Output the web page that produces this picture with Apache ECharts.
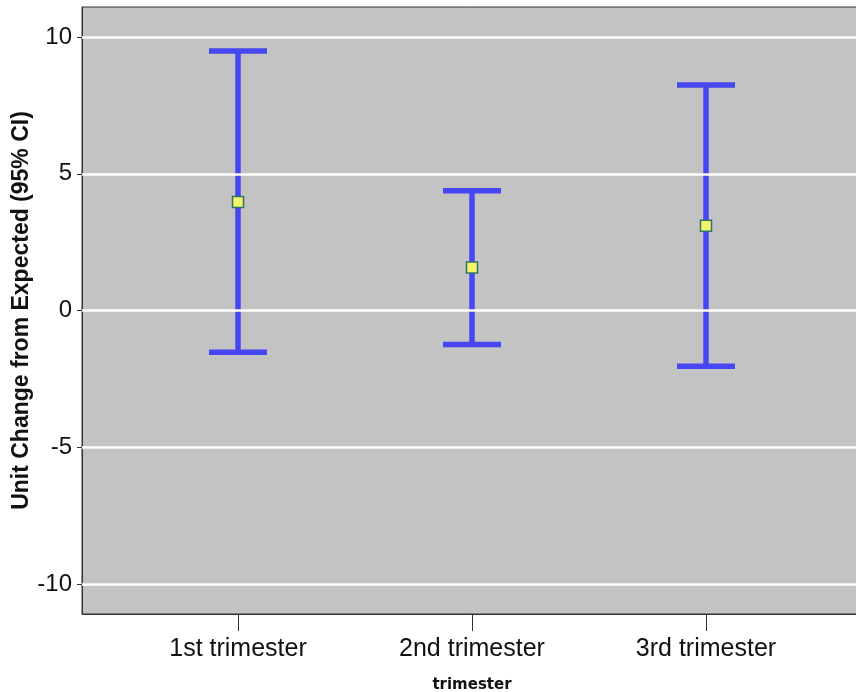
<!DOCTYPE html>
<html>
<head>
<meta charset="UTF-8">
<title>Unit Change from Expected</title>
<script src="https://cdn.jsdelivr.net/npm/echarts@6/dist/echarts.min.js"></script>
<style>
    body { margin: 0; background: #fff; }
    #chart { width: 856px; height: 692px; }
</style>
</head>
<body>
<div id="chart"></div>
<script>
var categories = ['1st trimester', '2nd trimester', '3rd trimester'];
var means = [3.97, 1.57, 3.10];
var lower = [-1.53, -1.24, -2.04];
var upper = [9.49, 4.38, 8.25];
var yTicks = [-10, -5, 0, 5, 10];

var chart = echarts.init(document.getElementById('chart'));

var barData = categories.map(function (c, i) { return [i + 1, lower[i], upper[i]]; });
var meanData = categories.map(function (c, i) { return [i + 1, means[i]]; });

var option = {
    animation: false,
    grid: {
        left: 82, top: 7, width: 780, height: 607,
        outerBoundsMode: 'none',
        containLabel: false,
        show: true,
        backgroundColor: '#c3c3c3',
        borderColor: '#333',
        borderWidth: 1
    },
    xAxis: {
        type: 'value',
        min: 1 / 3, max: 11 / 3,
        name: 'trimester',
        nameLocation: 'middle',
        nameGap: 64,
        nameMoveOverlap: false,
        nameTextStyle: { fontFamily: 'DejaVu Sans', fontWeight: 'bold', fontSize: 15, color: '#111' },
        axisLine: { show: true, onZero: false, lineStyle: { color: '#333', width: 1 } },
        axisTick: { show: true, length: 17, customValues: [1, 2, 3], lineStyle: { color: '#333' } },
        axisLabel: {
            customValues: [1, 2, 3],
            margin: 23,
            fontFamily: 'Liberation Sans', fontSize: 25, color: '#111',
            formatter: function (v) { return categories[Math.round(v) - 1]; }
        },
        splitLine: { show: false }
    },
    yAxis: {
        type: 'value',
        min: -11.1, max: 11.1,
        name: 'Unit Change from Expected (95% CI)',
        nameLocation: 'middle',
        nameGap: 49,
        nameMoveOverlap: false,
        nameTextStyle: { fontFamily: 'Liberation Sans', fontWeight: 'bold', fontSize: 23, color: '#111' },
        axisLine: { show: true, lineStyle: { color: '#333', width: 1 } },
        axisTick: { show: true, length: 5, customValues: yTicks, lineStyle: { color: '#333' } },
        axisLabel: {
            customValues: yTicks,
            margin: 10,
            fontFamily: 'Liberation Sans', fontSize: 24, color: '#111'
        },
        splitLine: { show: false }
    },
    series: [
        {
            type: 'custom',
            data: barData,
            silent: true,
            markLine: {
                silent: true,
                symbol: 'none',
                label: { show: false },
                lineStyle: { color: '#fff', width: 2.5, type: 'solid' },
                data: yTicks.map(function (v) { return { yAxis: v }; })
            },
            renderItem: function (params, api) {
                var x = api.value(0);
                var top = api.coord([x, api.value(2)]);
                var bot = api.coord([x, api.value(1)]);
                var half = 29;
                var style = { stroke: '#4646f2', lineWidth: 5.5 };
                return {
                    type: 'group',
                    children: [
                        { type: 'line', shape: { x1: top[0], y1: top[1], x2: bot[0], y2: bot[1] }, style: style },
                        { type: 'line', shape: { x1: top[0] - half, y1: top[1], x2: top[0] + half, y2: top[1] }, style: style },
                        { type: 'line', shape: { x1: bot[0] - half, y1: bot[1], x2: bot[0] + half, y2: bot[1] }, style: style }
                    ]
                };
            },
            z: 3
        },
        {
            type: 'scatter',
            data: meanData,
            symbol: 'rect',
            symbolSize: 11,
            itemStyle: { color: '#f4f36c', borderColor: '#2f7468', borderWidth: 1.5, opacity: 1 },
            z: 4
        }
    ]
};

chart.setOption(option);
</script>
</body>
</html>
